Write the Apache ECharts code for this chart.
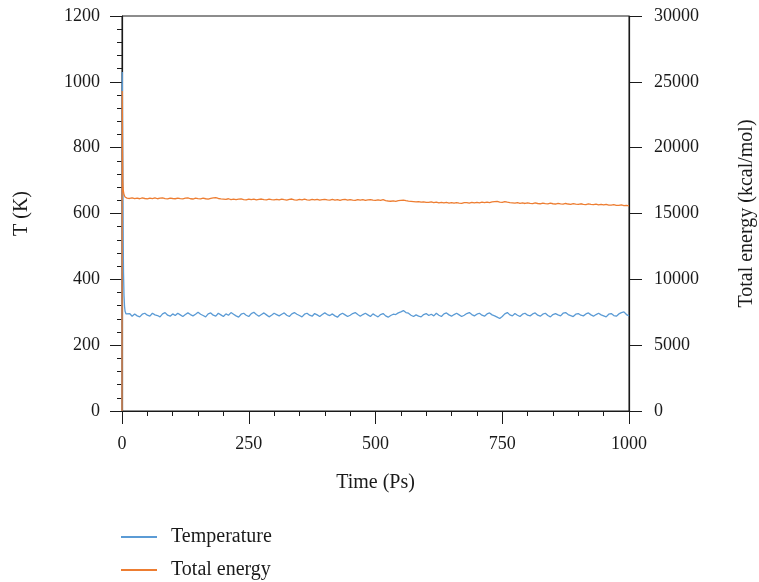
<!DOCTYPE html>
<html>
<head>
<meta charset="utf-8">
<script src="https://cdn.jsdelivr.net/npm/echarts@6/dist/echarts.min.js"></script>
<style>html,body{margin:0;padding:0;background:#fff}#c{width:759px;height:582px}</style>
</head>
<body>
<div id="c"></div>
<script>
// Early (equilibration) samples, ps
const earlyTime = [0, 0.5, 1, 1.5, 2, 2.5, 3, 4, 5, 6, 8];
const earlyTemp = [0, 1030, 900, 760, 620, 500, 420, 350, 318, 303, 295];
const earlyEnergy = [0, 24300, 20000, 17600, 17000, 16750, 16600, 16420, 16320, 16250, 16190];

// Regular samples from 10 ps to 1000 ps every 5 ps
const sampleStart = 10;
const sampleStep = 5;
const tempValues = [
  291, 296, 288, 295, 289, 286, 294, 297, 291, 288, 297, 292, 290, 286, 295, 299, 291, 288, 295, 290,
  297, 292, 287, 293, 298, 293, 289, 294, 300, 294, 290, 286, 295, 298, 291, 288, 297, 292, 287, 295,
  291, 299, 294, 289, 285, 294, 297, 291, 287, 296, 300, 293, 288, 293, 298, 292, 286, 291, 297, 293,
  289, 294, 298, 291, 287, 295, 299, 294, 290, 286, 294, 297, 291, 288, 296, 292, 287, 293, 298, 293,
  290, 295, 289, 285, 293, 297, 292, 287, 291, 296, 299, 293, 288, 293, 297, 292, 287, 295, 290, 286,
  293, 296, 289, 285, 290, 294, 293, 298, 301, 305, 299, 297, 291, 287, 292, 288, 286, 293, 296, 290,
  294, 289, 297, 291, 287, 295, 298, 292, 288, 293, 297, 292, 287, 291, 296, 299, 293, 289, 294, 297,
  291, 288, 295, 298, 292, 289, 285, 281, 287, 295, 299, 292, 289, 296, 291, 287, 294, 297, 291, 289,
  295, 298, 291, 288, 294, 297, 290, 286, 293, 296, 292, 289, 297, 299, 293, 290, 287, 294, 296, 291,
  289, 295, 298, 292, 288, 293, 297, 292, 289, 286, 294, 296, 290, 288, 295, 299, 301, 293, 289
];
const energyValues = [
  16170, 16140, 16190, 16130, 16170, 16120, 16180, 16140, 16110, 16170, 16130, 16180, 16120, 16160, 16190, 16130, 16110, 16170, 16140, 16120,
  16170, 16130, 16110, 16160, 16180, 16120, 16100, 16160, 16130, 16110, 16170, 16120, 16090, 16150, 16180, 16200, 16140, 16110, 16090, 16070,
  16120, 16060, 16100, 16050, 16090, 16110, 16060, 16040, 16100, 16050, 16090, 16030, 16080, 16100, 16050, 16040, 16090, 16050, 16030, 16080,
  16040, 16090, 16050, 16020, 16080, 16100, 16040, 16020, 16070, 16030, 16090, 16040, 16010, 16070, 16030, 16080, 16020, 16060, 16080, 16030,
  16010, 16070, 16020, 16060, 16000, 16050, 16070, 16010, 16060, 16020, 15990, 16050, 16010, 16060, 16000, 16040, 16060, 16010, 15990, 16040,
  16000, 16050, 15980, 15950, 15930, 15960, 15920, 15970, 16000, 16020, 15970, 15940, 15920, 15900, 15880, 15910, 15860, 15890, 15850, 15840,
  15880, 15830, 15860, 15810, 15850, 15800, 15840, 15790, 15830, 15780, 15820, 15790, 15770, 15820, 15830, 15780, 15840, 15800, 15850, 15810,
  15860, 15820, 15870, 15830, 15880, 15900, 15920, 15870, 15850, 15900, 15860, 15830, 15810, 15790, 15820, 15770, 15800, 15760, 15810, 15770,
  15750, 15800, 15760, 15740, 15790, 15750, 15730, 15780, 15740, 15720, 15770, 15730, 15710, 15760, 15720, 15700, 15750, 15710, 15690, 15740,
  15700, 15680, 15730, 15690, 15670, 15710, 15660, 15700, 15650, 15690, 15640, 15630, 15670, 15620, 15610, 15650, 15600, 15610, 15580
];

const xTicks = [0, 250, 500, 750, 1000];
const leftTicks = [0, 200, 400, 600, 800, 1000, 1200];
const rightTicks = [0, 5000, 10000, 15000, 20000, 25000, 30000];

const sampleTime = tempValues.map((_, i) => sampleStart + i * sampleStep);
const times = earlyTime.concat(sampleTime);
const temps = earlyTemp.concat(tempValues);
const energies = earlyEnergy.concat(energyValues);
const tempData = times.map((t, i) => [t, temps[i]]);
const energyData = times.map((t, i) => [t, energies[i]]);

const FONT = 'Liberation Serif';
const axisColor = '#1a1a1a';
const plain = v => String(v);

const chart = echarts.init(document.getElementById('c'), null, {renderer: 'canvas'});
chart.setOption({
  animation: false,
  backgroundColor: '#fff',
  textStyle: {fontFamily: FONT},
  grid: {left: 122, right: 130, top: 16, bottom: 171, show: true, borderColor: axisColor, borderWidth: 1,
         backgroundColor: 'transparent', containLabel: false, outerBoundsMode: 'none'},
  legend: {
    orient: 'vertical', left: 121, top: 527, padding: 0, itemWidth: 36, itemHeight: 2, itemGap: 13,
    icon: 'rect',
    textStyle: {fontFamily: FONT, fontSize: 20, color: '#1a1a1a', padding: [0, 0, 0, 9]},
    data: ['Temperature', 'Total energy']
  },
  xAxis: {
    type: 'value', min: xTicks[0], max: xTicks[xTicks.length - 1], interval: 250,
    name: 'Time (Ps)', nameLocation: 'middle', nameGap: 62,
    nameTextStyle: {fontFamily: FONT, fontSize: 20, color: '#1a1a1a'},
    axisLine: {show: true, onZero: false, lineStyle: {color: axisColor, width: 1.2}},
    axisTick: {show: true, length: 13, lineStyle: {color: axisColor}},
    minorTick: {show: true, splitNumber: 5, length: 5, lineStyle: {color: axisColor}},
    splitLine: {show: false},
    axisLabel: {fontFamily: FONT, fontSize: 18, color: '#1a1a1a', margin: 24, formatter: plain}
  },
  yAxis: [{
    type: 'value', position: 'left', min: leftTicks[0], max: leftTicks[leftTicks.length - 1], interval: 200,
    name: 'T (K)', nameLocation: 'middle', nameGap: 90, nameRotate: 90,
    nameTextStyle: {fontFamily: FONT, fontSize: 20, color: '#1a1a1a'},
    axisLine: {show: true, lineStyle: {color: axisColor, width: 1.2}},
    axisTick: {show: true, length: 12, lineStyle: {color: axisColor}},
    minorTick: {show: true, splitNumber: 5, length: 5, lineStyle: {color: axisColor}},
    splitLine: {show: false},
    axisLabel: {fontFamily: FONT, fontSize: 18, color: '#1a1a1a', margin: 22, formatter: plain}
  }, {
    type: 'value', position: 'right', min: rightTicks[0], max: rightTicks[rightTicks.length - 1], interval: 5000,
    name: 'Total energy (kcal/mol)', nameLocation: 'middle', nameGap: 108, nameRotate: 90,
    nameTextStyle: {fontFamily: FONT, fontSize: 20, color: '#1a1a1a'},
    axisLine: {show: true, lineStyle: {color: axisColor, width: 1.2}},
    axisTick: {show: true, length: 13, lineStyle: {color: axisColor}},
    splitLine: {show: false},
    axisLabel: {fontFamily: FONT, fontSize: 18, color: '#1a1a1a', margin: 25, formatter: plain}
  }],
  series: [{
    name: 'Temperature', type: 'line', yAxisIndex: 0, data: tempData,
    showSymbol: false, symbol: 'none', sampling: null,
    lineStyle: {color: '#5b9bd5', width: 1.3}, itemStyle: {color: '#5b9bd5'}
  }, {
    name: 'Total energy', type: 'line', yAxisIndex: 1, data: energyData,
    showSymbol: false, symbol: 'none', sampling: null,
    lineStyle: {color: '#ed7d31', width: 1.3}, itemStyle: {color: '#ed7d31'}
  }]
});
</script>
</body>
</html>
